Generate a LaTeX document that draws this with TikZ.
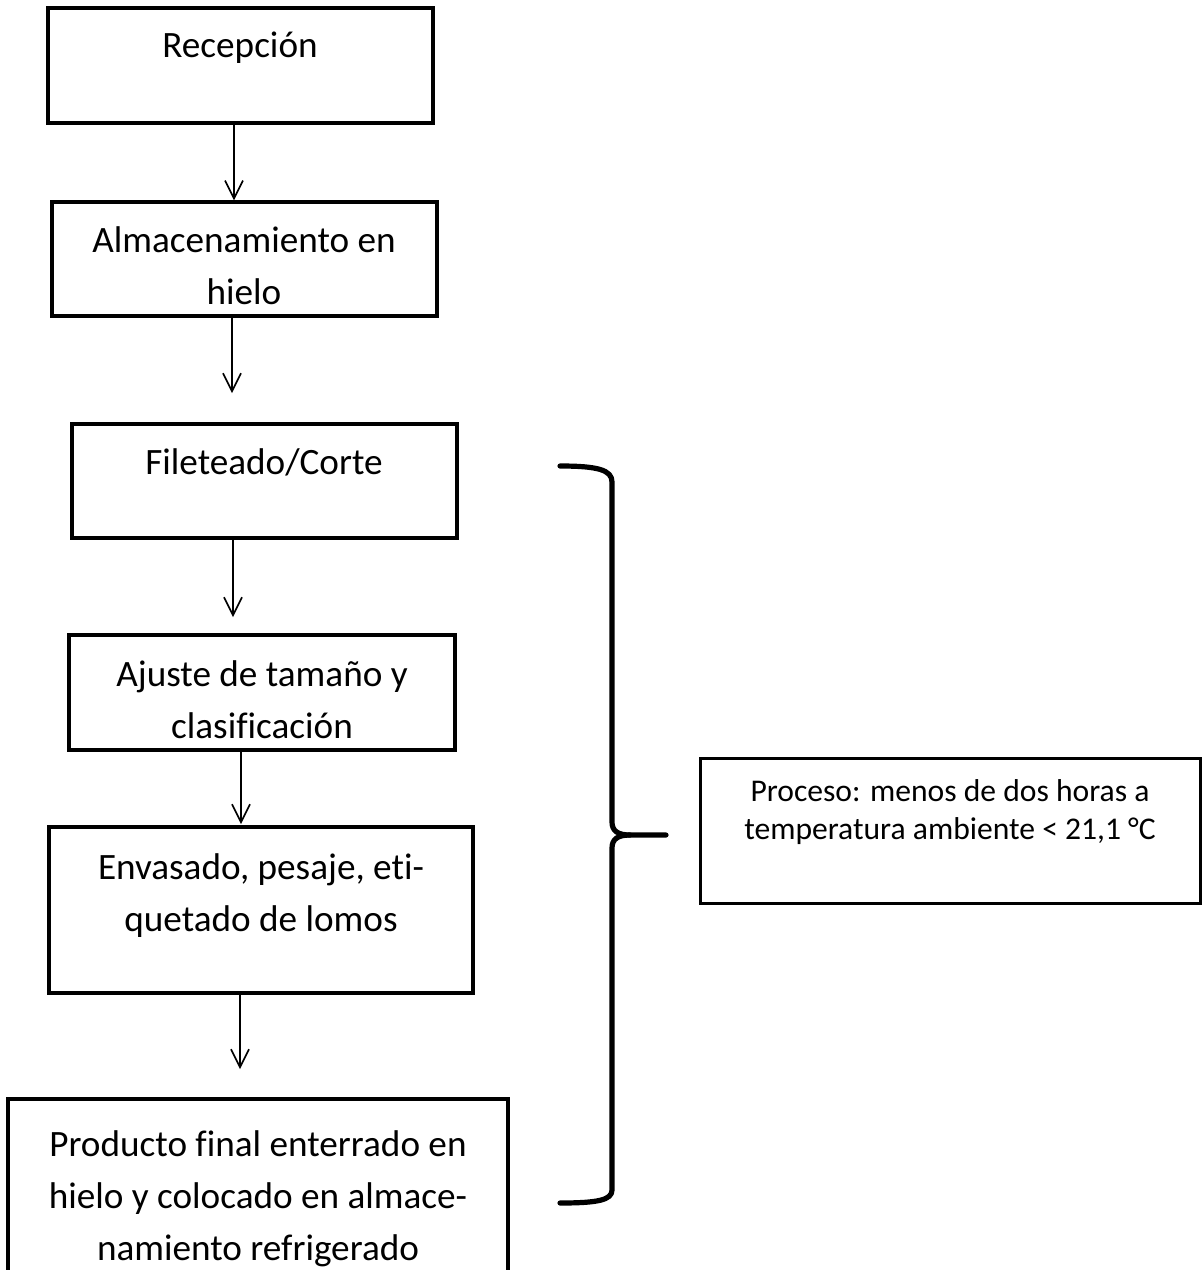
\documentclass[tikz,border=0pt]{standalone}
\usepackage{fontspec}
\setmainfont{Carlito}[Ligatures={NoCommon,NoContextual,NoRare}]
\usetikzlibrary{arrows.meta}
\begin{document}
\begin{tikzpicture}[x=0.5pt,y=-0.5pt,
  box/.style={draw=black, line width=1.7pt, inner sep=0pt},
  rbox/.style={draw=black, line width=1.5pt, inner sep=0pt},
  txt/.style={font=\fontsize{18.6pt}{26pt}\selectfont, align=center, inner sep=0pt},
  rtxt/.style={font=\fontsize{15.8pt}{18.8pt}\selectfont, align=center, inner sep=0pt},
  arr/.style={line width=0.8pt, -{Straight Barb[length=9pt,width=9pt,line width=0.8pt]}},
  bracestyle/.style={line width=2.6pt, line cap=round, line join=round}]
\useasboundingbox (0,0) rectangle (1203,1270);
\clip (0,0) rectangle (1203,1270);
\fill[white] (0,0) rectangle (1203,1270);

% boxes
\node[box, minimum width=192.5pt, minimum height=57.5pt] (b1) at (240.5,65.5) {};
\node[box, minimum width=192.5pt, minimum height=57pt] (b2) at (244.5,259) {};
\node[box, minimum width=192.5pt, minimum height=57pt] (b3) at (264.5,481) {};
\node[box, minimum width=193pt, minimum height=57.5pt] (b4) at (262,692.5) {};
\node[box, minimum width=212pt, minimum height=83pt] (b5) at (261,910) {};
\node[box, minimum width=250pt, minimum height=110pt] (b6) at (258,1209) {};
\node[rbox, minimum width=250pt, minimum height=72.5pt] (r) at (950,830.5) {};

% texts
\node[txt] (t1) at (240,48) {Recepción};
\node[txt] (t2) at (244,266) {Almacenamiento en\\hielo};
\node[txt] (t3) at (264,462) {Fileteado/Corte};
\node[txt] (t4) at (262,700) {Ajuste de tamaño y\\clasificación};
\node[txt] (t5) at (261,896) {Envasado, pesaje, eti-\\quetado de lomos};
\node[txt] (t6) at (258,1199) {Producto final enterrado en\\hielo y colocado en almace-\\namiento refrigerado};
\node[rtxt] (rt) at (950,812) {Proceso: menos de dos horas a\\temperatura ambiente < 21,1 °C};

% arrow end points
\coordinate (e2) at (232,393);
\coordinate (e3) at (233,617);
\coordinate (e4) at (241,824);
\coordinate (e5) at (240,1069);

\draw[arr] (b1.south -| 234,0) -- (b2.north -| 234,0);
\draw[arr] (b2.south -| e2) -- (e2);
\draw[arr] (b3.south -| e3) -- (e3);
\draw[arr] (b4.south -| e4) -- (e4);
\draw[arr] (b5.south -| e5) -- (e5);

% brace
\coordinate (tip) at (666,835);
\draw[bracestyle] (560,466) .. controls (598,466) and (612,470) .. (612,482)
  -- (612,822) .. controls (612,831) and (618,835) .. (630,835) -- (tip);
\draw[bracestyle] (630,835) .. controls (618,835) and (612,839) .. (612,848)
  -- (612,1190) .. controls (612,1200) and (598,1203) .. (560,1203);
\end{tikzpicture}
\end{document}
